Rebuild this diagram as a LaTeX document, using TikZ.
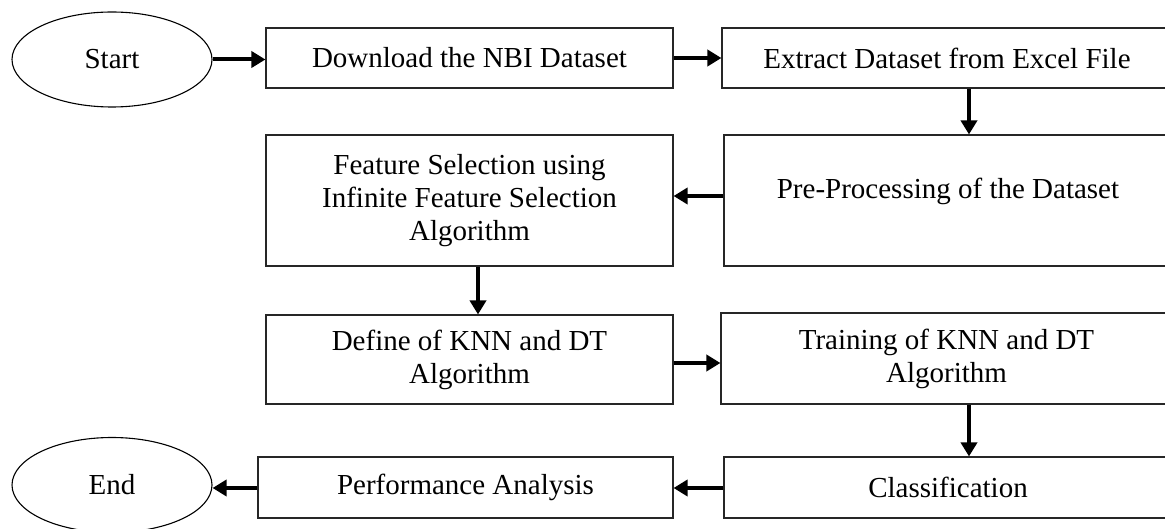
\documentclass[tikz,border=0pt]{standalone}
\usepackage{fontspec}
\setmainfont{Liberation Serif}
\usetikzlibrary{shapes.geometric,arrows.meta}
\newcommand{\flowfont}{\fontsize{29}{33}\selectfont}
\tikzset{
  box/.style={draw=black!85, line width=1.1pt, inner sep=0pt, align=center, font=\flowfont},
  term/.style={ellipse, draw=black, line width=1.1pt, inner sep=0pt,
               minimum width=200pt, minimum height=95pt, font=\flowfont},
  flowtext/.style={inner sep=0pt, align=center, font=\flowfont},
  arr/.style={-{Triangle[length=14pt,width=16pt]}, line width=4pt}
}
\begin{document}
\begin{tikzpicture}[x=1pt,y=-1pt]
\useasboundingbox (0,0) rectangle (1165,529);

% terminals
\node[term] (start) at (112,59.5) {Start};
\node[term] (end)   at (112,485)  {End};

% left column
\node[box, minimum width=407pt, minimum height=60pt]  (dl)   at (469.5,58)    {Download the NBI Dataset};
\node[box, minimum width=407pt, minimum height=131pt] (fs)   at (469.5,200.5) {Feature Selection using\\Infinite Feature Selection\\Algorithm};
\node[box, minimum width=407pt, minimum height=89pt]  (def)  at (469.5,359.5) {Define of KNN and DT\\Algorithm};
\node[box, minimum width=415pt, minimum height=61pt]  (perf) at (465.5,487.5) {Performance Analysis};

% right column
\node[box, minimum width=450pt, minimum height=60pt]  (ext)  at (947,58)      {Extract Dataset from Excel File};
\node[box, minimum width=448pt, minimum height=131pt] (pre)  at (948,200.5)   {};
\node[flowtext] (pretxt) at ([yshift=9pt]pre.center) {Pre-Processing of the Dataset};
\node[box, minimum width=451pt, minimum height=91pt]  (trn)  at (946.5,358.5) {Training of KNN and DT\\Algorithm};
\node[box, minimum width=448pt, minimum height=61pt]  (cls)  at (948,487.5)   {Classification};

% connector guide positions
\coordinate (rc) at (969,0);
\coordinate (lc) at (478,0);
\coordinate (r1) at (0,196);
\coordinate (r2) at (0,363);
\coordinate (r3) at (0,488);

% connectors
\draw[arr] (start.east) -- (start.east -| dl.west);
\draw[arr] (dl) -- (ext);
\draw[arr] (ext.south -| rc) -- (pre.north -| rc);
\draw[arr] (pre.west |- r1) -- (fs.east |- r1);
\draw[arr] (fs.south -| lc) -- (def.north -| lc);
\draw[arr] (def.east |- r2) -- (trn.west |- r2);
\draw[arr] (trn.south -| rc) -- (cls.north -| rc);
\draw[arr] (cls.west |- r3) -- (perf.east |- r3);
\draw[arr] (perf.west |- r3) -- (end.east |- r3);
\end{tikzpicture}
\end{document}
